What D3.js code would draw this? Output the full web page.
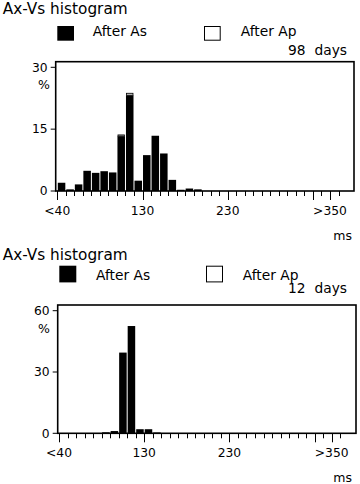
<!doctype html>
<html>
<head>
<script src="https://d3js.org/d3.v7.min.js"></script>
<style>
    body { margin: 0; background: #fff; }
    svg text { font-family: "DejaVu Sans", Verdana, sans-serif; fill: #000; white-space: pre; }
</style>
</head>
<body>
<script>
    // histogram bins (lower edge, ms); first bin is "<40"
    let bins1 = [30, 40, 50, 60, 70, 80, 90, 100, 110, 120, 130, 140, 150, 160, 170, 180, 190];
    let afterAs1 = [2.0, 0.4, 1.6, 4.9, 4.4, 4.8, 4.5, 13.3, 23.2, 2.5, 8.7, 13.4, 9.1, 2.7, 0.3, 0.6, 0.4];
    let afterAp1 = [0, 0, 0, 0, 0, 0, 0, 0.3, 0.5, 0, 0, 0, 0, 0, 0, 0, 0];

    let bins2 = [30, 40, 50, 60, 70, 80, 90, 100, 110, 120, 130, 140];
    let afterAs2 = [0, 0, 0, 0, 0, 0.5, 1.1, 39.5, 52.5, 2.0, 2.0, 0.4];
    let afterAp2 = [0, 0, 0, 0, 0, 0, 0, 0, 0, 0, 0, 0];

    let yTicks1 = [0, 15, 30];
    let yTicks2 = [0, 30, 60];
    let xLabelValues = [30, 130, 230, 350];
    let xLabels = ["<40", "130", "230", ">350"];
    let longTicks = [30, 130, 230, 330, 350];
    let days1 = "98  days", days2 = "12  days";

    let svg = d3.select("body").append("svg")
        .attr("width", 360).attr("height", 484);

    function histogram(cfg, bins, as, ap, yTicks, days) {
        let g = svg.append("g");
        let x = d3.scaleLinear().domain([30, 350]).range([cfg.x0, cfg.x0 + 272.7]);
        let y = d3.scaleLinear().domain([0, yTicks[2]]).range([cfg.bottom, cfg.yTop]);
        let bw = x(40) - x(30);

        // title + legend
        g.append("text").attr("x", 2.7).attr("y", cfg.titleY)
            .style("font-size", "15.3px").text("Ax-Vs histogram");
        g.append("rect").attr("x", cfg.sq1).attr("y", cfg.sqY).attr("width", cfg.sqW).attr("height", cfg.sqH)
            .attr("fill", "#000");
        g.append("text").attr("x", cfg.t1).attr("y", cfg.legY).style("font-size", "13.8px").text("After As");
        g.append("rect").attr("x", cfg.sq2 + 0.5).attr("y", cfg.sqY + 0.5).attr("width", cfg.sqW - 1).attr("height", cfg.sqH - 1)
            .attr("fill", "#fff").attr("stroke", "#000").attr("stroke-width", 1);
        g.append("text").attr("x", cfg.t2).attr("y", cfg.legY).style("font-size", "13.8px").text("After Ap");
        g.append("text").attr("x", 347).attr("y", cfg.daysY).attr("text-anchor", "end")
            .style("font-size", "13.8px").text(days);

        // bars
        let bars = g.selectAll(".bar").data(bins).enter().append("g");
        bars.append("rect")
            .attr("x", d => x(d) + 0.5)
            .attr("width", bw - 1)
            .attr("y", (d, i) => y(as[i]))
            .attr("height", (d, i) => y(0) - y(as[i]))
            .attr("fill", "#000");
        bars.filter((d, i) => ap[i] > 0).append("rect")
            .attr("x", d => x(d) + 1)
            .attr("width", bw - 2)
            .attr("y", d => y(as[bins.indexOf(d)] + ap[bins.indexOf(d)]))
            .attr("height", d => y(0) - y(ap[bins.indexOf(d)]))
            .attr("fill", "#bbb").attr("stroke", "#000").attr("stroke-width", 0.8);

        // frame
        g.append("rect").attr("x", cfg.left).attr("y", cfg.top)
            .attr("width", cfg.right - cfg.left).attr("height", cfg.bottom - cfg.top)
            .attr("fill", "none").attr("stroke", "#000").attr("stroke-width", 1.6);

        // x ticks
        let xt = d3.range(30, 370, 10);
        g.selectAll(".xt").data(xt).enter().append("line")
            .attr("x1", d => Math.round(x(d)) + 0.5).attr("x2", d => Math.round(x(d)) + 0.5)
            .attr("y1", cfg.bottom).attr("y2", d => cfg.bottom + (longTicks.includes(d) ? 9 : 5))
            .attr("stroke", "#000").attr("stroke-width", 1);
        g.selectAll(".xl").data(xLabelValues).enter().append("text")
            .attr("x", d => x(d)).attr("y", cfg.bottom + 24)
            .attr("text-anchor", "middle").style("font-size", "12.3px")
            .text((d, i) => xLabels[i]);
        g.append("text").attr("x", 352).attr("y", cfg.bottom + 48.5)
            .attr("text-anchor", "end").style("font-size", "12.5px").text("ms");

        // y ticks
        g.selectAll(".yt").data(yTicks).enter().append("line")
            .attr("x1", cfg.left - 5).attr("x2", cfg.left)
            .attr("y1", d => y(d)).attr("y2", d => y(d))
            .attr("stroke", "#000").attr("stroke-width", 1);
        g.selectAll(".yl").data(yTicks).enter().append("text")
            .attr("x", cfg.left - 8).attr("y", d => y(d) + 4.3)
            .attr("text-anchor", "end").style("font-size", "12.3px")
            .text(d => d);
        g.append("text").attr("x", 44).attr("y", cfg.yTop + 22)
            .attr("text-anchor", "middle").style("font-size", "12.5px").text("%");
    }

    histogram({
        x0: 57.3, left: 55.7, right: 354, top: 61.7, bottom: 191, yTop: 67.3,
        titleY: 14.3, sqY: 26, sqW: 16.7, sqH: 14.7, sq1: 57.3, sq2: 204, t1: 92.7, t2: 240.7,
        legY: 36.3, daysY: 55
    }, bins1, afterAs1, afterAp1, yTicks1, days1);

    histogram({
        x0: 59, left: 57.7, right: 356, top: 305, bottom: 433.3, yTop: 310.7,
        titleY: 260, sqY: 265.7, sqW: 17, sqH: 16.7, sq1: 59.3, sq2: 206, t1: 96, t2: 242.7,
        legY: 279.5, daysY: 292.8
    }, bins2, afterAs2, afterAp2, yTicks2, days2);
</script>
</body>
</html>
